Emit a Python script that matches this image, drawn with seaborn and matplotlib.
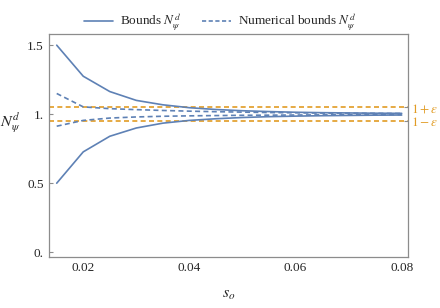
import numpy as np
import pandas as pd
import seaborn as sns
import matplotlib
matplotlib.use('Agg')
import matplotlib.pyplot as plt
from matplotlib.lines import Line2D

# values
s_o = [0.015, 0.02, 0.025, 0.03, 0.035, 0.04, 0.045, 0.05,
       0.055, 0.06, 0.065, 0.07, 0.075, 0.08]
bound_upper = [1.50, 1.275, 1.164, 1.10, 1.068, 1.047, 1.034, 1.025,
               1.019, 1.014, 1.011, 1.009, 1.007, 1.006]
bound_lower = [0.50, 0.727, 0.84, 0.90, 0.935, 0.955, 0.967, 0.976,
               0.982, 0.986, 0.989, 0.991, 0.993, 0.994]
num_upper = [1.15, 1.053, 1.04, 1.033, 1.027, 1.022, 1.018, 1.015,
             1.012, 1.010, 1.008, 1.007, 1.006, 1.005]
num_lower = [0.913, 0.955, 0.972, 0.980, 0.985, 0.988, 0.990, 0.992,
             0.993, 0.994, 0.995, 0.996, 0.996, 0.997]
eps = 0.05

blue = '#5E81B5'
orange = '#E19C24'
frame = '#8c8c8c'

sns.set_style('white')
plt.rcParams['font.family'] = ['Liberation Serif', 'DejaVu Serif']
plt.rcParams['mathtext.fontset'] = 'stix'
plt.rcParams['font.size'] = 9.5

df = pd.DataFrame({
    's': s_o * 4,
    'N': bound_upper + bound_lower + num_upper + num_lower,
    'curve': ['bu'] * 14 + ['bl'] * 14 + ['nu'] * 14 + ['nl'] * 14,
})

fig = plt.figure(figsize=(4.4, 3.08), dpi=100)
ax = fig.add_axes([0.112, 0.166, 0.816, 0.724])

dash = (0, (3, 2))
for c in ['bu', 'bl']:
    sns.lineplot(data=df[df.curve == c], x='s', y='N', ax=ax,
                 color=blue, lw=1.2, legend=False)
for c in ['nu', 'nl']:
    sns.lineplot(data=df[df.curve == c], x='s', y='N', ax=ax,
                 color=blue, lw=1.2, ls=dash, legend=False)
for v in [1 + eps, 1 - eps]:
    ax.axhline(v, color=orange, lw=1.2, ls=dash, zorder=1)

ax.set_xlim(0.0136, 0.08125)
ax.set_ylim(-0.034, 1.582)
ax.set_xticks([0.02, 0.04, 0.06, 0.08])
ax.set_xticklabels(['0.02', '0.04', '0.06', '0.08'])
ax.set_yticks([0, 0.5, 1, 1.5])
ax.set_yticklabels(['0.', '0.5', '1.', '1.5'])
ax.tick_params(direction='in', length=3, width=0.8, color=frame,
               labelsize=9.5, pad=4)
for sp in ax.spines.values():
    sp.set_color(frame)
    sp.set_linewidth(0.9)

ax.set_xlabel(r'$s_o$', fontsize=11.5, labelpad=8)
ax.set_ylabel(r'$N_\psi^d$', fontsize=11.5, rotation=0, va='center')
ax.yaxis.set_label_coords(-0.11, 0.60)

ax2 = ax.twinx()
ax2.set_ylim(ax.get_ylim())
ax2.set_yticks([1 + eps, 1 - eps])
ax2.set_yticklabels([r'$1+\epsilon$', r'$1-\epsilon$'])
ax2.tick_params(direction='in', length=3, width=0.8, color=frame,
                labelcolor=orange, labelsize=9.5, pad=2)
for sp in ax2.spines.values():
    sp.set_visible(False)

handles = [Line2D([], [], color=blue, lw=1.2),
           Line2D([], [], color=blue, lw=1.2, ls=(0, (2.5, 1.5)))]
fig.legend(handles, [r'Bounds $N_\psi^d$', r'Numerical bounds $N_\psi^d$'],
           loc='upper center', bbox_to_anchor=(0.5, 1.0), ncol=2,
           frameon=False, fontsize=9.5, handlelength=2.2,
           handletextpad=0.5, columnspacing=1.6)

fig.savefig('out.png', dpi=100)
